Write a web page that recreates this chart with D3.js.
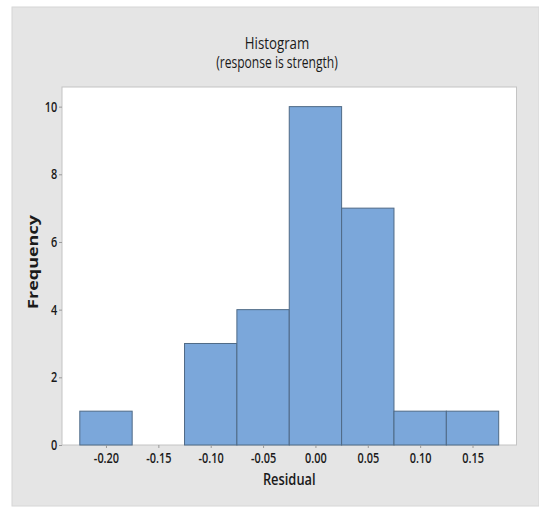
<!DOCTYPE html>
<html>
<head>
<meta charset="utf-8">
<script src="https://cdn.jsdelivr.net/npm/d3@7"></script>
<style>
  body { margin: 0; background: #ffffff; }
  text { font-family: "Open Sans", sans-serif; }
</style>
</head>
<body>
<div class="svg-container"></div>
<script>
// bin midpoints and counts
var binMids = [-0.20, -0.15, -0.10, -0.05, 0.00, 0.05, 0.10, 0.15];
var counts = [1, 0, 3, 4, 10, 7, 1, 1];
var binWidth = 0.05;
var xTicks = [-0.20, -0.15, -0.10, -0.05, 0.00, 0.05, 0.10, 0.15];
var yTicks = [0, 2, 4, 6, 8, 10];

var width = 539;
var height = 508;
var plotLeft = 62, plotRight = 516.5, plotTop = 87, plotBottom = 445;
var squash = 0.78;   // the source picture is squeezed horizontally

var svg = d3.select(".svg-container").append("svg")
  .attr("width", width)
  .attr("height", height);

// grey outer panel
svg.append("rect")
  .attr("x", 12).attr("y", 7)
  .attr("width", width - 12).attr("height", 499)
  .attr("fill", "#e5e5e5")
  .attr("stroke", "#d6d6d6");

// plot area
svg.append("rect")
  .attr("x", plotLeft).attr("y", plotTop)
  .attr("width", plotRight - plotLeft).attr("height", plotBottom - plotTop)
  .attr("fill", "#ffffff")
  .attr("stroke", "#c4c4c4");

var x = d3.scaleLinear().domain([-0.242, 0.192]).range([plotLeft, plotRight]);
var y = d3.scaleLinear().domain([0, 10.58]).range([plotBottom, plotTop]);

// bars
svg.selectAll(".bar")
  .data(binMids.map(function(m, i) { return { mid: m, n: counts[i] }; }).filter(function(d) { return d.n > 0; }))
  .enter().append("rect")
  .attr("class", "bar")
  .attr("x", function(d) { return x(d.mid - binWidth / 2); })
  .attr("width", function(d) { return x(d.mid + binWidth / 2) - x(d.mid - binWidth / 2); })
  .attr("y", function(d) { return y(d.n); })
  .attr("height", function(d) { return y(0) - y(d.n); })
  .attr("fill", "#7ba7da")
  .attr("stroke", "#4f6a86")
  .attr("stroke-width", 1);

// X axis
var xAxis = svg.append("g")
  .attr("transform", "translate(0," + plotBottom + ")")
  .call(d3.axisBottom(x).tickValues(xTicks).tickSize(3).tickPadding(5)
    .tickFormat(function(d) { return d3.format(".2f")(d).replace("−", "-"); }));
xAxis.select(".domain").remove();
xAxis.selectAll("line").attr("stroke", "#9a9a9a");
xAxis.selectAll("text")
  .attr("font-family", "Open Sans, sans-serif")
  .attr("font-size", 14)
  .attr("font-weight", 600)
  .attr("transform", "scale(" + squash + ",1)")
  .attr("fill", "#1a1a1a");

// Y axis
var yAxis = svg.append("g")
  .attr("transform", "translate(" + plotLeft + ",0)")
  .call(d3.axisLeft(y).tickValues(yTicks).tickSize(3).tickPadding(3));
yAxis.select(".domain").remove();
yAxis.selectAll("line").attr("stroke", "#9a9a9a");
yAxis.selectAll("text")
  .attr("font-family", "Open Sans, sans-serif")
  .attr("font-size", 14)
  .attr("font-weight", 600)
  .attr("transform", "scale(" + squash + ",1)")
  .attr("fill", "#1a1a1a");

function squashedText(cx, cy, size, str) {
  return svg.append("text")
    .attr("transform", "translate(" + cx + "," + cy + ") scale(" + squash + ",1)")
    .attr("text-anchor", "middle")
    .attr("font-size", size)
    .attr("font-weight", 500)
    .attr("fill", "#1a1a1a")
    .text(str);
}

// Titles
squashedText(277, 49, 17, "Histogram");
squashedText(277, 68, 15.5, "(response is strength)");

// X axis label
squashedText((plotLeft + plotRight) / 2, 485, 16.5, "Residual").attr("font-weight", 600);

// Y axis label
svg.append("text")
  .attr("transform", "translate(38,262) scale(" + squash + ",1) rotate(-90)")
  .attr("text-anchor", "middle")
  .attr("font-weight", "bold")
  .attr("font-size", 18)
  .attr("fill", "#1a1a1a")
  .text("Frequency");
</script>
</body>
</html>
